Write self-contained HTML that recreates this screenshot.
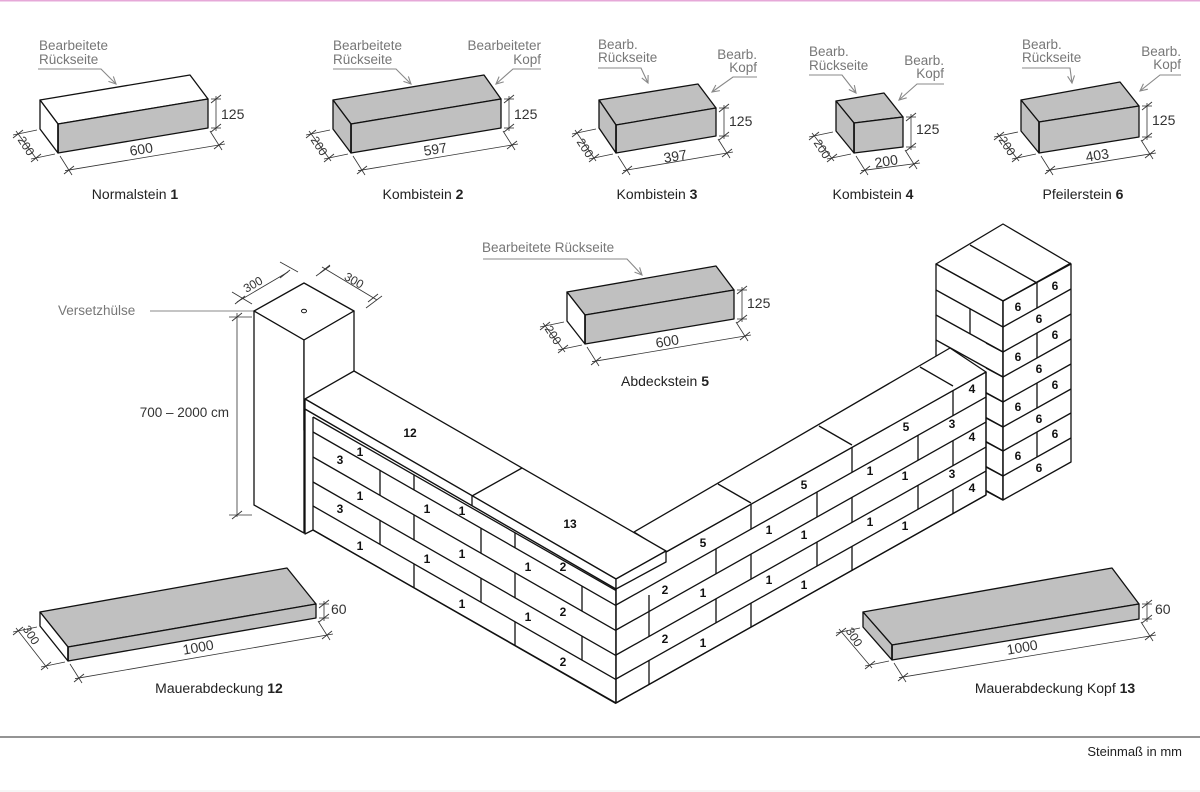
<!DOCTYPE html>
<html><head><meta charset="utf-8"><style>
html,body{margin:0;padding:0;background:#fff;}
svg{display:block;}
text{font-family:"Liberation Sans",sans-serif;}
.an{fill:#777;font-size:13.5px;}
.dm{fill:#333;font-size:14px;}
.cap{fill:#222;font-size:14px;}
.n{fill:#111;font-size:12px;font-weight:bold;text-anchor:middle;}
</style></head><body>
<svg id="s" width="1200" height="792" viewBox="0 0 1200 792" xmlns="http://www.w3.org/2000/svg">
<rect x="0" y="0" width="1200" height="792" fill="#fff"/>
<line x1="0" y1="0.5" x2="1200" y2="0.5" stroke="#e6a8d8" stroke-width="2"/>
<g id="g"></g>
<g id="t">
<text class="an" x="39" y="50">Bearbeitete</text><text class="an" x="39" y="64">Rückseite</text>
<text class="an" x="333" y="50">Bearbeitete</text><text class="an" x="333" y="64">Rückseite</text>
<text class="an" x="541" y="50" text-anchor="end">Bearbeiteter</text><text class="an" x="541" y="64" text-anchor="end">Kopf</text>
<text class="an" x="598" y="49">Bearb.</text><text class="an" x="598" y="62">Rückseite</text>
<text class="an" x="757" y="59" text-anchor="end">Bearb.</text><text class="an" x="757" y="72" text-anchor="end">Kopf</text>
<text class="an" x="809" y="56">Bearb.</text><text class="an" x="809" y="70">Rückseite</text>
<text class="an" x="944" y="65" text-anchor="end">Bearb.</text><text class="an" x="944" y="78" text-anchor="end">Kopf</text>
<text class="an" x="1022" y="49">Bearb.</text><text class="an" x="1022" y="62">Rückseite</text>
<text class="an" x="1181" y="56" text-anchor="end">Bearb.</text><text class="an" x="1181" y="69" text-anchor="end">Kopf</text>
<text class="an" x="482" y="252">Bearbeitete Rückseite</text>
<text class="an" x="58" y="315">Versetzhülse</text>
<text class="dm" x="229" y="417" text-anchor="end" style="font-size:13.5px">700 – 2000 cm</text>
<text class="dm" x="255" y="288" text-anchor="middle" transform="rotate(-30 255 288)" style="font-size:12px">300</text>
<text class="dm" x="352" y="284" text-anchor="middle" transform="rotate(30 352 284)" style="font-size:12px">300</text>

<text class="dm" x="221" y="119">125</text>
<text class="dm" x="142" y="154" text-anchor="middle" transform="rotate(-9.5 142 154)">600</text>
<text class="dm" x="26" y="150" text-anchor="middle" transform="rotate(57 26 146)" style="font-size:12px">200</text>

<text class="dm" x="514" y="119">125</text>
<text class="dm" x="436" y="154" text-anchor="middle" transform="rotate(-9.5 436 154)">597</text>
<text class="dm" x="319" y="150" text-anchor="middle" transform="rotate(57 319 146)" style="font-size:12px">200</text>

<text class="dm" x="729" y="126">125</text>
<text class="dm" x="676" y="161" text-anchor="middle" transform="rotate(-9.5 676 161)">397</text>
<text class="dm" x="585" y="152" text-anchor="middle" transform="rotate(57 585 148)" style="font-size:12px">200</text>

<text class="dm" x="916" y="134">125</text>
<text class="dm" x="887" y="166" text-anchor="middle" transform="rotate(-9.5 887 166)">200</text>
<text class="dm" x="822" y="153" text-anchor="middle" transform="rotate(57 822 149)" style="font-size:12px">200</text>

<text class="dm" x="1152" y="125">125</text>
<text class="dm" x="1098" y="160" text-anchor="middle" transform="rotate(-9.5 1098 160)">403</text>
<text class="dm" x="1007" y="150" text-anchor="middle" transform="rotate(57 1007 146)" style="font-size:12px">200</text>

<text class="dm" x="747" y="308">125</text>
<text class="dm" x="668" y="346" text-anchor="middle" transform="rotate(-9.5 668 346)">600</text>
<text class="dm" x="553" y="339" text-anchor="middle" transform="rotate(57 553 335)" style="font-size:12px">200</text>

<text class="dm" x="331" y="614">60</text>
<text class="dm" x="199" y="652" text-anchor="middle" transform="rotate(-10 199 652)">1000</text>
<text class="dm" x="31" y="639" text-anchor="middle" transform="rotate(57 31 635)" style="font-size:12px">300</text>

<text class="dm" x="1155" y="614">60</text>
<text class="dm" x="1023" y="652" text-anchor="middle" transform="rotate(-10 1023 652)">1000</text>
<text class="dm" x="854" y="641" text-anchor="middle" transform="rotate(57 854 637)" style="font-size:12px">300</text>

<text class="cap" x="135" y="199" text-anchor="middle">Normalstein <tspan font-weight="bold">1</tspan></text>
<text class="cap" x="423" y="199" text-anchor="middle">Kombistein <tspan font-weight="bold">2</tspan></text>
<text class="cap" x="657" y="199" text-anchor="middle">Kombistein <tspan font-weight="bold">3</tspan></text>
<text class="cap" x="873" y="199" text-anchor="middle">Kombistein <tspan font-weight="bold">4</tspan></text>
<text class="cap" x="1083" y="199" text-anchor="middle">Pfeilerstein <tspan font-weight="bold">6</tspan></text>
<text class="cap" x="665" y="386" text-anchor="middle">Abdeckstein <tspan font-weight="bold">5</tspan></text>
<text class="cap" x="219" y="693" text-anchor="middle">Mauerabdeckung <tspan font-weight="bold">12</tspan></text>
<text class="cap" x="1055" y="693" text-anchor="middle">Mauerabdeckung Kopf <tspan font-weight="bold">13</tspan></text>
<text class="cap" x="1182" y="756" text-anchor="end" style="font-size:13px">Steinmaß in mm</text>
</g>
<g id="lab"></g>
</svg>
<script>
const NS='http://www.w3.org/2000/svg';
const G=document.getElementById('g');
function el(t,a,p){const e=document.createElementNS(NS,t);for(const k in a)e.setAttribute(k,a[k]);(p||G).appendChild(e);return e;}
function poly(pts,fill,w){el('polygon',{points:pts.map(p=>p.join(',')).join(' '),fill:fill,stroke:'#111','stroke-width':w||1.3,'stroke-linejoin':'round'});}
function line(x1,y1,x2,y2,c,w){el('line',{x1:x1,y1:y1,x2:x2,y2:y2,stroke:c||'#111','stroke-width':w||1.3});}
function tick(x,y){line(x-5,y+4,x+5,y-4,'#333',0.9);}
function pl(pts,c,w){el('polyline',{points:pts.map(p=>p.join(',')).join(' '),fill:'none',stroke:c||'#888','stroke-width':w||1.1});}
function arrowLeader(pts){pl(pts,'#888',1.1);const a=pts[pts.length-2],b=pts[pts.length-1];const ang=Math.atan2(b[1]-a[1],b[0]-a[0]);const L=8;
 pl([[b[0]-L*Math.cos(ang-0.45),b[1]-L*Math.sin(ang-0.45)],b,[b[0]-L*Math.cos(ang+0.45),b[1]-L*Math.sin(ang+0.45)]],'#888',1.1);}
const GR='#c0c0c0';
function brick(A,B,C,D,h,ft,ff,fe){
 const Dh=[D[0],D[1]+h],Ch=[C[0],C[1]+h],Ah=[A[0],A[1]+h];
 poly([A,B,C,D],ft);poly([D,C,Ch,Dh],ff);poly([A,D,Dh,Ah],fe);
 line(D[0],D[1],D[0],Dh[1],'#111',1.6);
 const g='#333';
 const vx=C[0]+8;
 line(vx,C[1]-3,vx,Ch[1]+3,g,.8);line(C[0]+3,C[1],vx+5,C[1],g,.8);line(C[0]+3,Ch[1],vx+5,Ch[1],g,.8);
 tick(vx,C[1]);tick(vx,Ch[1]);
 const o=[11,17];const p1=[Dh[0]+o[0],Dh[1]+o[1]],p2=[Ch[0]+o[0],Ch[1]+o[1]];
 line(p1[0]-4,p1[1]+0.7,p2[0]+6,p2[1]-1,g,.8);
 line(Dh[0]+2,Dh[1]+3,p1[0]+3,p1[1]+5,g,.8);line(Ch[0]+2,Ch[1]+3,p2[0]+3,p2[1]+5,g,.8);
 tick(p1[0],p1[1]);tick(p2[0],p2[1]);
 const q=[-22,5];const d1=[Ah[0]+q[0],Ah[1]+q[1]],d2=[Dh[0]+q[0],Dh[1]+q[1]];
 line(d1[0]-2,d1[1]-3,d2[0]+2,d2[1]+3,g,.8);
 line(Ah[0]-3,Ah[1]+1,d1[0]-5,d1[1]+1,g,.8);line(Dh[0]-3,Dh[1]+1,d2[0]-5,d2[1]+1,g,.8);
 tick(d1[0],d1[1]);tick(d2[0],d2[1]);
}
brick([40,100],[190,75],[208,99],[58,124],29,'#fff',GR,'#fff');
brick([333,100],[484,75],[501,99],[351,124],29,GR,GR,GR);
brick([599,100],[698,84],[716,108],[616,125],28,GR,GR,GR);
brick([836,101],[884,93],[903,117],[854,123],30,GR,GR,GR);
brick([1021,100],[1120,82],[1139,106],[1039,122],31,GR,GR,GR);
brick([567,292],[716,266],[734,290],[585,315],29,GR,GR,'#fff');
brick([40,612],[287,568],[316,604],[68,647],14,GR,GR,'#fff');
brick([863,612],[1112,568],[1139,604],[892,645],15,GR,GR,GR);
arrowLeader([[38,69],[101,69],[116,84]]);
arrowLeader([[333,69],[396,69],[411,84]]);
arrowLeader([[541,69],[513,69],[496,84]]);
arrowLeader([[598,68],[641,68],[648,83]]);
arrowLeader([[757,77],[733,77],[712,92]]);
arrowLeader([[809,75],[842,75],[856,93]]);
arrowLeader([[944,84],[917,84],[899,100]]);
arrowLeader([[1022,68],[1070,68],[1072,83]]);
arrowLeader([[1181,75],[1160,75],[1140,91]]);
arrowLeader([[483,259],[627,259],[642,275]]);
arrowLeader([[150,311],[294,311]]);

poly([[254,311],[304,283],[354,311],[304,340]],'#fff');
poly([[254,311],[304,340],[304,533],[254,505]],'#fff');
poly([[304,340],[354,311],[354,400],[304,430]],'#fff');
el('ellipse',{cx:304,cy:311,rx:2.5,ry:1.8,fill:'none',stroke:'#111','stroke-width':1});
const g='#333';
line(237,313,237,517,g,.8);tick(237,317);tick(237,515);line(229,317,252,317,g,.8);line(229,515,252,515,g,.8);
line(237,302,288,272,g,.8);tick(240,300);tick(285,274);line(232,292,252,304,g,.8);line(280,262,298,272,g,.8);
line(322,267,377,300,g,.8);tick(325,269);tick(373,298);line(316,276,330,266,g,.8);line(366,308,382,296,g,.8);

const F=[301,327,352,377,402,427,451,476,500];
poly([[936,264],[1003,224],[1071,264],[1003,301]],'#fff');
poly([[936,264],[1003,301],[1003,500],[936,463]],'#fff');
poly([[1003,301],[1071,264],[1071,462],[1003,500]],'#fff');
line(970,245,1037,283);
F.forEach((y,i)=>{ if(i>0){line(936,y-37,1003,y);} if(i<8) line(1003,y,1071,y-38);});
line(970,309,970,334);
[0,2,4,6].forEach(j=>line(1037,F[j]-19,1037,F[j+1]-19));

const s1=0.573;
poly([[305,409],[616,589],[616,703],[313,530],[305,534]],'#fff');
poly([[666,552],[986,372],[986,495],[616,703],[616,589]],'#fff');
poly([[634,532],[950,348],[986,372],[666,552]],'#fff');
F.forEach((y,i)=>{ if(i>=2) line(986,y-9,1003,y);});
line(986,372,986,495);line(1003,301,1003,500);
const L=[417,432,457,482,506,530];
L.forEach(y=>line(313,y,616,y+s1*303));
line(313,417,313,530);line(616,589,616,703);
function lj(x,ks){ks.forEach(k=>line(x,L[k]+s1*(x-313),x,L[k+1]+s1*(x-313)));}
lj(380,[1,3]);lj(414,[0,2,4]);lj(481,[1,3]);lj(515,[0,2,4]);lj(582,[1,3]);
const C=[580,605,630,655,679,703];
C.slice(1).forEach(y=>line(616,y,986,y-0.562*370));
function rj(x,ks){ks.forEach(k=>{const d=0.562*(x-616);line(x,C[k]-d,x,C[k+1]-d);});}
rj(649,[2,4]);rj(716,[1,3]);rj(751,[0,2,4]);rj(817,[1,3]);rj(852,[0,2,4]);rj(918,[1,3]);rj(953,[0,2,4]);
line(718,484,751,503);line(819,426,852,445);line(920,367,953,386);
poly([[305,399],[354,371],[666,551],[616,579]],'#fff');
poly([[305,399],[616,579],[616,589],[305,409]],'#fff');
poly([[616,579],[666,551],[666,562],[616,589]],'#fff');
line(472,496,522,468);line(472,496,472,506);
line(649,595,649,611);

line(0,737,1200,737,'#555',1.3);
line(0,791,1200,791,'#eee',1);

const LB=document.getElementById('lab');
const labs=[['12',410,437],['13',570,528],['1',360,456],['3',340,464],['1',360,500],['3',340,513],['1',427,513],['1',462,515],['1',360,550],['1',427,563],['1',462,558],['1',528,571],['2',563,571],['1',462,608],['1',528,621],['2',563,616],['2',563,666],
['2',665,594],['2',665,643],['1',703,597],['1',703,647],['1',769,534],['1',804,539],['1',870,475],['1',905,480],['1',769,584],['1',804,589],['1',870,526],['1',905,530],
['5',703,547],['5',804,489],['5',906,431],['3',952,428],['4',972,393],['4',972,441],['3',952,478],['4',972,492],
['6',1055,290],['6',1018,311],['6',1039,323],['6',1055,339],['6',1018,361],['6',1039,373],['6',1055,389],['6',1018,411],['6',1039,423],['6',1055,438],['6',1018,460],['6',1039,472]];
labs.forEach(([t,x,y])=>{const e=el('text',{x:x,y:y,class:'n'},LB);e.textContent=t;});
</script>
</body></html>
